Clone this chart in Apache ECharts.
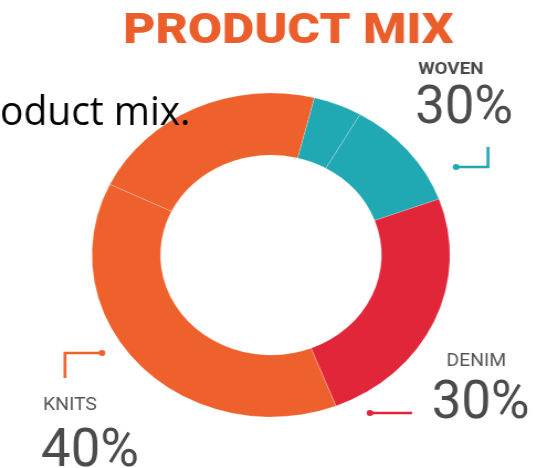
<!DOCTYPE html>
<html>
<head>
<meta charset="utf-8">
<script src="https://cdn.jsdelivr.net/npm/echarts@6/dist/echarts.min.js"></script>
<style>
html,body{margin:0;padding:0;background:#fff;overflow:hidden;width:548px;height:468px;}
#c{width:496px;height:468px;transform:scaleX(1.105);transform-origin:0 0;}
</style>
</head>
<body>
<div id="c"></div>
<script>
// ---- data ----
const categories = ['WOVEN', 'DENIM', 'KNITS'];
const labelPercents = [30, 30, 40];
// drawn arcs (share of the ring, clockwise from the woven edge)
const arcNames = ['WOVEN', 'WOVEN', 'DENIM', 'KNITS', 'KNITS'];
const arcShares = [4.4, 11.1, 24.7, 38.1, 21.7];
const titleText = 'PRODUCT MIX';
const leftoverText = 'oduct mix.';

const colorOf = { WOVEN: '#20A8B3', DENIM: '#E1263A', KNITS: '#EF612C' };
const pct = v => v + '%';

const chart = echarts.init(document.getElementById('c'), null, { renderer: 'canvas' });

const numFont = { fontFamily: 'Roboto', fontSize: 53, fill: '#4b4b4b', textAlign: 'center', textVerticalAlign: 'middle' };
const capFont = { fontFamily: 'Roboto', fontSize: 17.5, fill: '#555', textAlign: 'center', textVerticalAlign: 'middle' };

chart.setOption({
  animation: false,
  backgroundColor: '#fff',
  series: [{
    type: 'pie',
    silent: true,
    center: [245.2, 255],
    radius: [100, 162],
    startAngle: 76,
    clockwise: true,
    label: { show: false },
    labelLine: { show: false },
    itemStyle: { borderColor: 'rgba(255,255,255,0.28)', borderWidth: 0.8 },
    data: arcShares.map((v, i) => ({ name: arcNames[i], value: v, itemStyle: { color: colorOf[arcNames[i]] } }))
  }],
  graphic: [
    { type: 'text', z: 10, x: 261, y: 32, scaleX: 1.07,
      style: { text: titleText, fontFamily: 'Roboto', fontWeight: 900, fontSize: 42, fill: '#EB5E2C', textAlign: 'center', textVerticalAlign: 'middle' } },
    { type: 'text', z: 10, x: 0, y: 113, scaleX: 0.86,
      style: { text: leftoverText, fontFamily: 'Open Sans', fontSize: 41, fill: '#000', textAlign: 'left', textVerticalAlign: 'middle' } },
    // WOVEN
    { type: 'text', z: 10, x: 408, y: 70,
      style: Object.assign({}, capFont, { text: categories[0], fontWeight: 'bold', fontSize: 17, fill: '#4a4a4a' }) },
    { type: 'text', z: 10, x: 420, y: 110, scaleX: 0.9,
      style: Object.assign({}, numFont, { text: pct(labelPercents[0]) }) },
    { type: 'polyline', z: 10, shape: { points: [[441.6, 147], [441.6, 167], [412.7, 167]] },
      style: { stroke: colorOf.WOVEN, lineWidth: 2.6, fill: null } },
    { type: 'circle', z: 10, shape: { cx: 412.7, cy: 167, r: 3 }, style: { fill: colorOf.WOVEN } },
    // DENIM
    { type: 'text', z: 10, x: 431, y: 361.5,
      style: Object.assign({}, capFont, { text: categories[1] }) },
    { type: 'text', z: 10, x: 435, y: 405, scaleX: 0.9,
      style: Object.assign({}, numFont, { text: pct(labelPercents[1]) }) },
    { type: 'line', z: 10, shape: { x1: 334.8, y1: 413, x2: 372.9, y2: 413 },
      style: { stroke: colorOf.DENIM, lineWidth: 2.6 } },
    { type: 'circle', z: 10, shape: { cx: 334.8, cy: 413, r: 3 }, style: { fill: colorOf.DENIM } },
    // KNITS
    { type: 'text', z: 10, x: 63.3, y: 406,
      style: Object.assign({}, capFont, { text: categories[2] }) },
    { type: 'text', z: 10, x: 81.4, y: 453, scaleX: 0.9,
      style: Object.assign({}, numFont, { text: pct(labelPercents[2]) }) },
    { type: 'polyline', z: 10, shape: { points: [[58.8, 378], [58.8, 353], [92.3, 353]] },
      style: { stroke: colorOf.KNITS, lineWidth: 2.6, fill: null } },
    { type: 'circle', z: 10, shape: { cx: 92.3, cy: 353, r: 3 }, style: { fill: colorOf.KNITS } }
  ]
});
</script>
</body>
</html>
